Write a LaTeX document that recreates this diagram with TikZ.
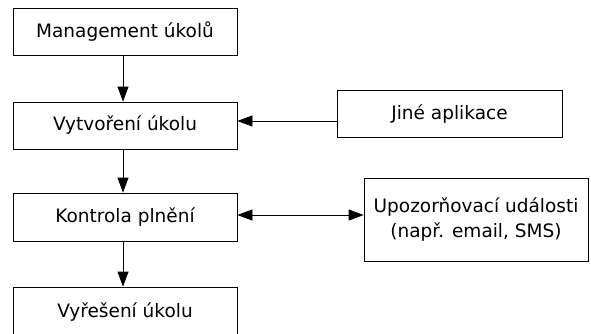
\documentclass[tikz,border=0pt]{standalone}
\usepackage{fontspec}
\setmainfont{DejaVu Sans}
\usetikzlibrary{arrows.meta}

\tikzset{
  krok/.style={draw, line width=0.8pt, minimum width=224pt, minimum height=47pt,
    inner sep=0pt, align=center, font=\fontsize{18.5}{25}\selectfont},
  sipka/.style={line width=0.8pt, -{Triangle[length=15pt,width=11pt]}},
  obousipka/.style={line width=0.8pt, {Triangle[length=15pt,width=11pt]}-{Triangle[length=15pt,width=11pt]}},
}

\begin{document}
\begin{tikzpicture}[x=1pt,y=-1pt]
      %% \draw [help lines, opacity=0.5] (0,0) grid [step=50] (591,333);
      \useasboundingbox (0,0) rectangle (591,333);

      \node [krok] (management) at (125,31.5) {Management úkolů};
      \node [krok] (vytvoreni) at (125,125.5) {Vytvoření úkolu};
      \node [krok, minimum height=48pt] (kontrola) at (125,217) {Kontrola plnění};
      \node [krok, minimum height=50pt] (vyreseni) at (125,312) {Vyřešení úkolu};

      \node [krok, minimum width=225pt] (jine) at (449.5,114) {Jiné aplikace};
      \node [krok, minimum height=83pt] (upozorneni) at (476,219.5)
      {Upozorňovací události\\(např. email, SMS)};

      \draw [sipka] (management.south -| 123,0) -- (vytvoreni.north -| 123,0);
      \draw [sipka] (vytvoreni.south -| 123,0) -- (kontrola.north -| 123,0);
      \draw [sipka] (kontrola.south -| 123,0) -- (vyreseni.north -| 123,0);

      \draw [sipka] (jine.west |- 0,121) -- (vytvoreni.east |- 0,121);
      \draw [obousipka] (kontrola.east |- 0,215) -- (upozorneni.west |- 0,215);
   \end{tikzpicture}
\end{document}
